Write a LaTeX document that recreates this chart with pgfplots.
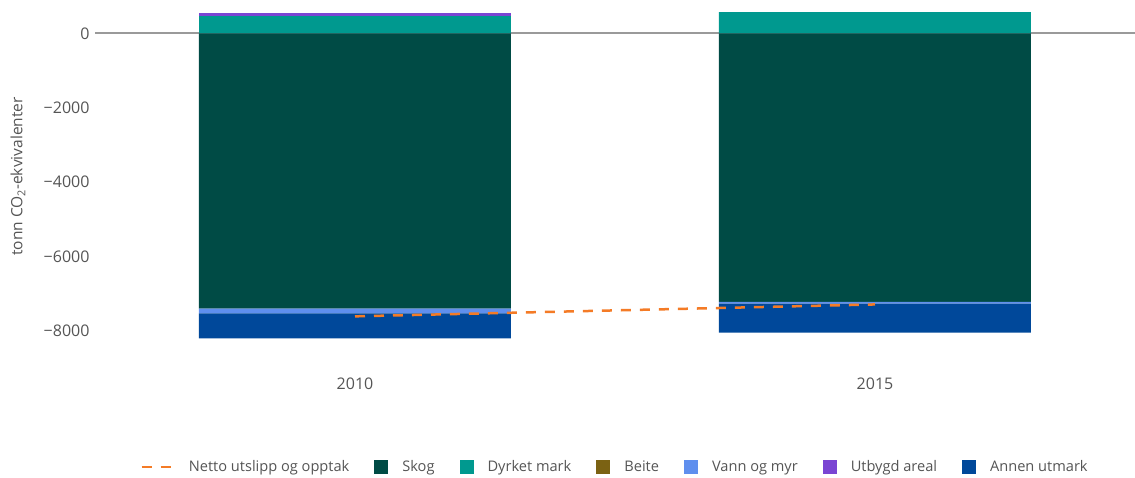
\documentclass[border=0pt]{standalone}
\usepackage{fontspec}
\setmainfont{Open Sans}
\usepackage{pgfplots}
\pgfplotsset{compat=1.18}

\definecolor{skog}{HTML}{004B45}
\definecolor{dyrket}{HTML}{00998F}
\definecolor{beite}{HTML}{7B6213}
\definecolor{vann}{HTML}{5F8FEE}
\definecolor{utbygd}{HTML}{7A45D3}
\definecolor{annen}{HTML}{00489A}
\definecolor{netto}{HTML}{F47B26}
\definecolor{zeroline}{HTML}{9A9A9A}
\definecolor{ticktext}{HTML}{555555}

\pgfplotsset{
  base/.style={
    scale only axis, width=1040pt, height=331pt,
    at={(95pt,135pt)}, anchor=south west,
    xmin=-0.5, xmax=1.5, ymin=-8300, ymax=600,
    ybar stacked, bar width=0.6, reverse stacked plots=false,
    axis line style={draw=none}, major tick length=0pt,
    tick label style={font=\fontsize{16}{19}\selectfont, text=ticktext},
  },
  sq/.style={legend image code/.code={\fill[##1, draw=none] (0pt,-7pt) rectangle (14pt,7pt);}},
}

\begin{document}
\begin{tikzpicture}[x=1pt,y=1pt]
\useasboundingbox (0,0) rectangle (1135,477);

% positive part of the stacks, with the zero line behind it
\begin{axis}[base, xtick=\empty, ytick=\empty,
  extra y ticks={0}, extra y tick labels={},
  extra y tick style={ymajorgrids=true, major grid style={draw=zeroline, line width=2pt}}]
\addplot[fill=dyrket, draw=none] coordinates {(0,460) (1,570)};
\addplot[fill=beite, draw=none] coordinates {(0,0) (1,0)};
\addplot[fill=utbygd, draw=none] coordinates {(0,80) (1,0)};
\end{axis}

% negative part, ticks and legend
\begin{axis}[base,
  xtick={0,1}, xticklabels={2010,2015},
  xticklabel style={yshift=-32pt},
  ytick={-8000,-6000,-4000,-2000,0},
  yticklabels={−8000,−6000,−4000,−2000,0},
  yticklabel style={xshift=-2pt},
  ylabel={tonn CO\textsubscript{2}-ekvivalenter},
  ylabel style={at={(axis description cs:-0.074,0.5)}, anchor=center,
    font=\fontsize{15.5}{18}\selectfont, text=ticktext},
  legend columns=7,
  legend style={at={(axis description cs:0.5,-0.378)}, anchor=center, draw=none,
    font=\fontsize{14.6}{17}\selectfont, text=ticktext,
    /tikz/every even column/.append style={column sep=23pt},
    /tikz/every odd column/.append style={column sep=12pt}},
]
\addlegendimage{legend image code/.code={\draw[netto, line width=2.5pt, dash pattern=on 10pt off 9pt] (0pt,0pt) -- (32pt,0pt);}}
\addlegendimage{sq, fill=skog}
\addlegendimage{sq, fill=dyrket}
\addlegendimage{sq, fill=beite}
\addlegendimage{sq, fill=vann}
\addlegendimage{sq, fill=utbygd}
\addlegendimage{sq, fill=annen}

\addplot[fill=skog, draw=none, forget plot] coordinates {(0,-7400) (1,-7220)};
\addplot[fill=vann, draw=none, forget plot] coordinates {(0,-130) (1,-50)};
\addplot[fill=annen, draw=none, forget plot] coordinates {(0,-670) (1,-780)};

\legend{Netto utslipp og opptak, Skog, Dyrket mark, Beite, Vann og myr, Utbygd areal, Annen utmark}
\end{axis}

% net emission line on top of the bars
\begin{axis}[base, xtick=\empty, ytick=\empty]
\addplot[netto, line width=2.5pt, dash pattern=on 10pt off 9pt, sharp plot,
  stack plots=false] coordinates {(0,-7610) (1,-7290)};
\end{axis}
\end{tikzpicture}
\end{document}
